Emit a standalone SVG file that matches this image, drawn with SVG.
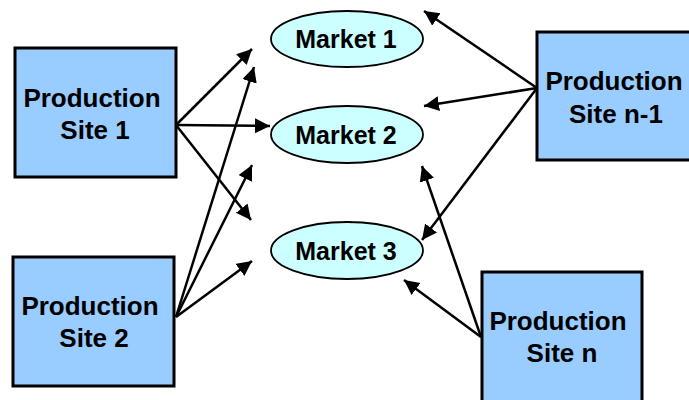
<svg xmlns="http://www.w3.org/2000/svg" width="689" height="400" viewBox="0 0 689 400">
<style>
.box{fill:#99CCFF;stroke:#000;stroke-width:3}
.mkt{fill:#CCFFFF;stroke:#000;stroke-width:1.8}
.t{font-family:"Liberation Sans",Arial,sans-serif;font-weight:bold;fill:#000;text-anchor:middle}
.bt{font-size:26px}
.mt{font-size:25px}
.c{stroke:#000;stroke-width:2.5;fill:none;marker-end:url(#ah)}
</style>
<defs>
<marker id="ah" markerUnits="userSpaceOnUse" markerWidth="16" markerHeight="16" refX="15" refY="7.5" orient="auto">
<path d="M0,0 L15,7.5 L0,15 z" fill="#000"/>
</marker>
</defs>
<rect width="689" height="400" fill="#fff"/>
<g id="connectors">
<line class="c" x1="176" y1="125" x2="252" y2="49"/>
<line class="c" x1="176" y1="125" x2="270" y2="126"/>
<line class="c" x1="176" y1="125" x2="251" y2="220"/>
<line class="c" x1="176" y1="317" x2="254" y2="67"/>
<line class="c" x1="176" y1="317" x2="252" y2="165"/>
<line class="c" x1="176" y1="317" x2="252" y2="261"/>
<line class="c" x1="537" y1="88" x2="424" y2="11"/>
<line class="c" x1="537" y1="88" x2="424" y2="106"/>
<line class="c" x1="537" y1="88" x2="422" y2="240"/>
<line class="c" x1="481" y1="337" x2="404" y2="280"/>
<line class="c" x1="481" y1="337" x2="422" y2="166"/>
</g>
<g id="site1">
<rect class="box" x="15" y="48" width="161" height="129"/>
<text class="t bt" x="92" y="107">Production</text>
<text class="t bt" x="95" y="139">Site 1</text>
</g>
<g id="site2">
<rect class="box" x="13" y="257" width="161" height="129"/>
<text class="t bt" x="90" y="315">Production</text>
<text class="t bt" x="94" y="347">Site 2</text>
</g>
<g id="siten1">
<rect class="box" x="537" y="32" width="170" height="128"/>
<text class="t bt" x="614" y="90">Production</text>
<text class="t bt" x="616" y="123">Site n-1</text>
</g>
<g id="siten">
<rect class="box" x="482" y="272" width="160" height="140"/>
<text class="t bt" x="558" y="330">Production</text>
<text class="t bt" x="562" y="362">Site n</text>
</g>
<g id="market1">
<ellipse class="mkt" cx="347" cy="39" rx="76" ry="28"/>
<text class="t mt" x="346" y="47.5">Market 1</text>
</g>
<g id="market2">
<ellipse class="mkt" cx="347" cy="134.5" rx="76" ry="28.5"/>
<text class="t mt" x="346" y="143.5">Market 2</text>
</g>
<g id="market3">
<ellipse class="mkt" cx="347" cy="250.5" rx="76" ry="28.5"/>
<text class="t mt" x="346" y="260">Market 3</text>
</g>
</svg>
